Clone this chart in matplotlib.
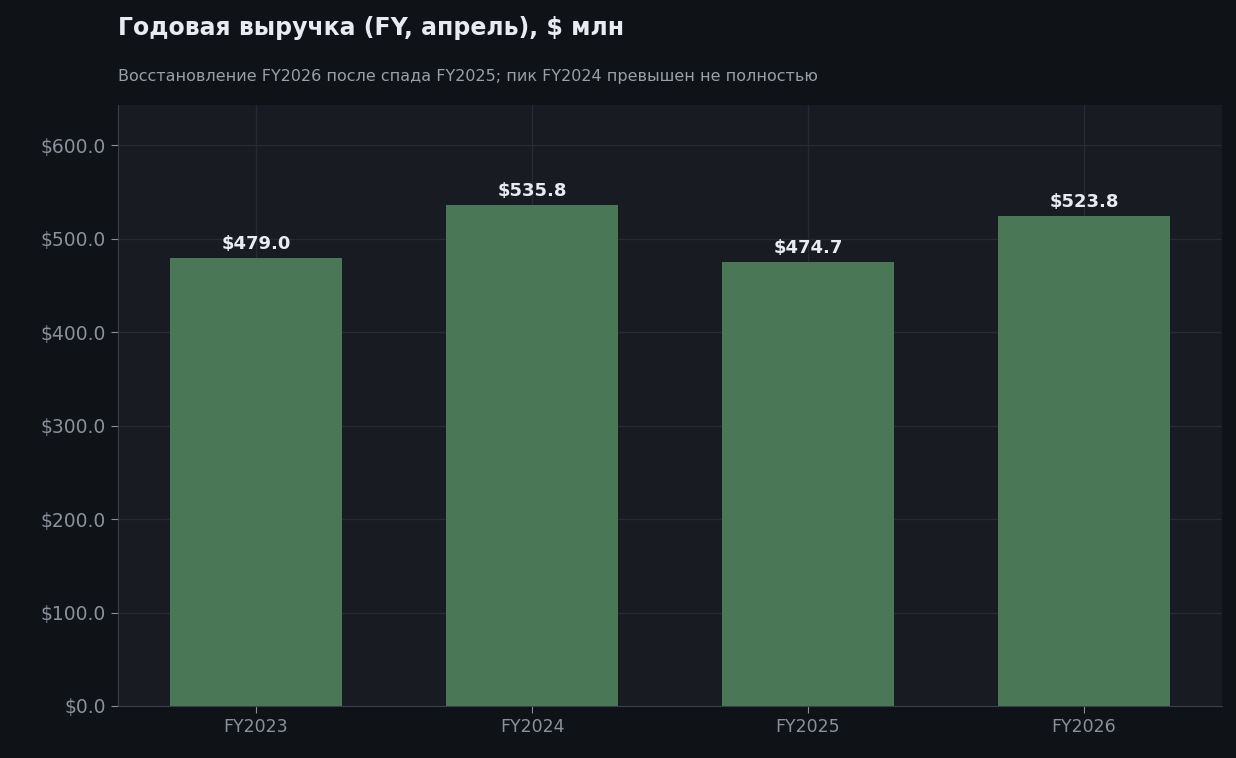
import matplotlib
matplotlib.use("Agg")
import matplotlib.pyplot as plt
from matplotlib.ticker import FuncFormatter

categories = ["FY2023", "FY2024", "FY2025", "FY2026"]
revenue = [479.0, 535.8, 474.7, 523.8]

fig = plt.figure(figsize=(12.36, 7.58), dpi=100, facecolor="#0f1317")
ax = fig.add_axes([118/1236, 1-706/758, (1222-118)/1236, (706-105)/758])
ax.set_facecolor("#181b22")
x = range(len(categories))
ax.bar(x, revenue, width=0.62, color="#4a7856", zorder=3)
for xi, v in zip(x, revenue):
    ax.annotate(f"${v:.1f}", (xi, v), xytext=(0, 4), textcoords="offset points",
                ha="center", va="bottom", color="#e8ecf2", fontsize=13, fontweight="bold", zorder=4)
ax.set_xticks(list(x))
ax.set_xticklabels(categories)
ax.set_xlim(-0.5, 3.5)
ax.set_ylim(0, 643)
ax.set_yticks([0, 100, 200, 300, 400, 500, 600])
ax.yaxis.set_major_formatter(FuncFormatter(lambda v, p: f"${v:.1f}"))
ax.grid(True, color="#262a33", linewidth=1, zorder=0)
ax.tick_params(colors="#8b919b", labelsize=13.5, length=5)
ax.tick_params(axis="x", labelsize=12.5)
ax.tick_params(axis="y", labelsize=13.5)
for s in ["top", "right"]:
    ax.spines[s].set_visible(False)
for s in ["left", "bottom"]:
    ax.spines[s].set_color("#3a3f48")
fig.text(118/1236, 1-28/758, "Годовая выручка (FY, апрель), $ млн", ha="left", va="center",
         color="#e8ecf2", fontsize=17, fontweight="bold")
fig.text(118/1236, 1-77/758, "Восстановление FY2026 после спада FY2025; пик FY2024 превышен не полностью",
         ha="left", va="center", color="#9aa0a8", fontsize=11.5)
fig.savefig("out.png", dpi=100, facecolor=fig.get_facecolor())
